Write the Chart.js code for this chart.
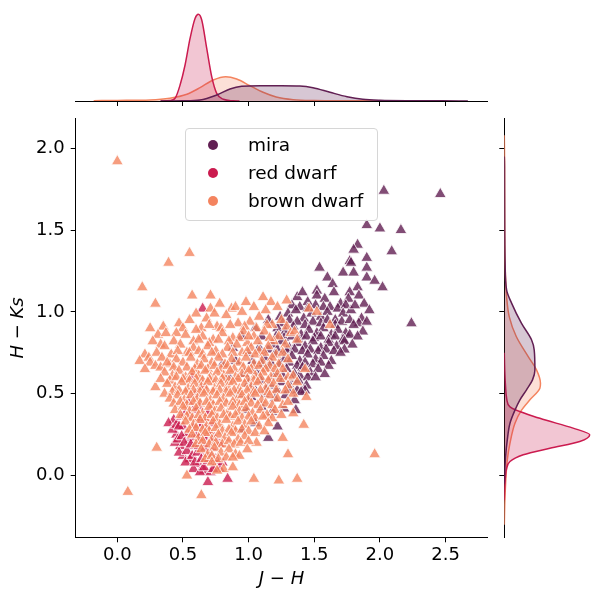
<!DOCTYPE html>
<html><head><meta charset="utf-8">
<script src="https://cdn.jsdelivr.net/npm/chart.js@4.4.1/dist/chart.umd.min.js"></script>
<style>
html,body{margin:0;padding:0;background:#fff;}
#wrap{position:relative;width:603px;height:603px;background:#fff;overflow:hidden;}
canvas{position:absolute;}
#legend{position:absolute;left:185px;top:128px;width:193px;height:93px;border:1px solid #d6d6d6;border-radius:4px;background:rgba(255,255,255,0.8);font-family:'DejaVu Sans';font-size:18.5px;color:#000;box-sizing:border-box;}
.item{position:absolute;left:0;height:24px;line-height:24px;width:100%;}
.dot{position:absolute;left:22px;top:7px;width:10px;height:10px;border-radius:50%;}
.lbl{position:absolute;left:62px;top:0;white-space:nowrap;}
</style>
</head><body>
<div id="wrap">
  <canvas id="main" width="500" height="503" style="left:0;top:100px"></canvas>
  <canvas id="top" width="500" height="112" style="left:0;top:0"></canvas>
  <canvas id="right" width="113" height="503" style="left:490px;top:100px"></canvas>
  <div id="legend"></div>
</div>
<script>
// ---- categories & colours ----
const categories = ['mira', 'red dwarf', 'brown dwarf'];
const colors = ['#611f53', '#cb1b4f', '#f4845f'];

// ---- axis ticks ----
const xTicks = [0.0, 0.5, 1.0, 1.5, 2.0, 2.5];
const yTicks = [0.0, 0.5, 1.0, 1.5, 2.0];

// ---- scatter data: [J-H, H-Ks] ----
const mira = [
 [2.03,1.74],[2.46,1.72],[1.90,1.53],[2.00,1.51],[2.16,1.50],[1.83,1.41],[2.09,1.37],[1.80,1.38],[1.90,1.33],[1.77,1.31],
 [1.54,1.27],[1.90,1.27],[1.72,1.24],[1.80,1.24],[1.60,1.21],[1.90,1.21],[1.96,1.19],[1.64,1.17],[1.83,1.15],[2.02,1.15],
 [1.52,1.13],[1.77,1.12],[2.24,0.93],[1.78,1.30],[1.37,1.09],
 [1.45,1.06],[1.52,1.10],[1.58,1.08],[1.65,1.12],[1.70,1.05],[1.76,1.08],[1.84,1.10],[1.62,1.03],[1.41,1.12],
 [1.33,1.04],[1.39,1.03],[1.45,1.02],[1.51,1.04],[1.57,1.03],[1.68,1.02],[1.74,1.04],[1.88,1.05],
 [1.24,0.97],[1.30,0.99],[1.36,1.01],[1.42,0.96],[1.48,0.99],[1.55,0.97],[1.60,1.00],[1.66,0.95],[1.72,0.99],[1.78,1.01],[1.86,0.96],[1.92,1.01],[1.81,1.04],
 [1.26,0.93],[1.31,0.95],[1.37,0.94],[1.43,0.92],[1.49,0.94],[1.55,0.93],[1.60,0.95],[1.66,0.92],[1.71,0.94],[1.77,0.95],[1.84,0.93],[1.90,0.94],
 [1.22,0.90],[1.28,0.88],[1.34,0.91],[1.40,0.86],[1.46,0.89],[1.52,0.87],[1.57,0.90],[1.63,0.86],[1.68,0.89],[1.74,0.87],[1.80,0.92],[1.87,0.88],
 [1.21,0.85],[1.27,0.84],[1.33,0.85],[1.38,0.83],[1.44,0.85],[1.50,0.84],[1.55,0.85],[1.61,0.83],[1.66,0.85],[1.72,0.83],[1.77,0.86],[1.83,0.85],
 [1.18,0.80],[1.25,0.82],[1.31,0.78],[1.37,0.81],[1.43,0.79],[1.49,0.82],[1.55,0.78],[1.61,0.81],[1.67,0.79],[1.73,0.82],[1.79,0.80],
 [1.15,0.77],[1.22,0.77],[1.29,0.76],[1.35,0.77],[1.41,0.76],[1.47,0.77],[1.53,0.76],[1.59,0.77],[1.65,0.76],[1.73,0.77],
 [1.12,0.72],[1.20,0.74],[1.27,0.71],[1.33,0.73],[1.39,0.70],[1.45,0.74],[1.51,0.71],[1.57,0.73],[1.63,0.70],[1.70,0.75],
 [1.10,0.68],[1.17,0.69],[1.24,0.68],[1.31,0.69],[1.37,0.67],[1.43,0.69],[1.49,0.68],[1.55,0.69],[1.61,0.67],
 [1.05,0.64],[1.14,0.66],[1.22,0.63],[1.29,0.65],[1.35,0.62],[1.41,0.66],[1.47,0.63],[1.53,0.65],[1.58,0.62],
 [1.08,0.61],[1.19,0.60],[1.26,0.61],[1.33,0.59],[1.39,0.61],[1.45,0.60],[1.51,0.60],
 [1.00,0.56],[1.09,0.58],[1.17,0.55],[1.25,0.57],[1.32,0.54],[1.38,0.58],[1.44,0.55],
 [1.05,0.52],[1.14,0.53],[1.22,0.52],[1.30,0.52],[1.37,0.52],[1.43,0.52],
 [1.02,0.48],[1.12,0.50],[1.20,0.47],[1.28,0.49],[1.35,0.46],[1.40,0.51],
 [0.98,0.40],[1.10,0.42],[1.18,0.39],[1.27,0.41],[1.36,0.40],
 [1.05,0.32],[1.15,0.23],[1.22,0.30],[0.95,0.28],
 [0.85,0.60],[0.90,0.70],[0.92,0.50],[0.88,0.78],[0.95,0.85],[1.00,0.75],[1.05,0.90],[1.10,0.85],[1.15,0.95],[0.80,0.68],[0.97,0.62],[1.08,0.78],[1.03,0.70]
];
const redDwarf = [
 [0.43,0.34],[0.39,0.32],[0.45,0.25],[0.48,0.18],[0.50,0.12],[0.55,0.10],[0.62,0.07],[0.66,0.03],[0.76,0.06],[0.69,-0.04],[0.84,-0.02],[0.65,1.02],
 [0.42,0.28],[0.44,0.20],[0.47,0.14],[0.52,0.08],[0.58,0.04],[0.63,0.02],[0.71,0.02],[0.78,0.04],[0.45,0.31],[0.49,0.36],
 [0.50,0.30],[0.53,0.26],[0.55,0.22],[0.57,0.28],[0.58,0.18],[0.60,0.24],[0.60,0.32],[0.61,0.20],[0.62,0.27],[0.63,0.15],
 [0.63,0.23],[0.64,0.30],[0.65,0.19],[0.65,0.25],[0.66,0.35],[0.67,0.22],[0.68,0.28],[0.68,0.13],[0.70,0.20],[0.70,0.26],
 [0.72,0.17],[0.72,0.32],[0.74,0.23],[0.75,0.10],[0.78,0.19],[0.80,0.08],[0.56,0.36],[0.58,0.40],[0.62,0.42],[0.54,0.45],
 [0.52,0.38],[0.47,0.30],[0.46,0.22],[0.49,0.24],[0.51,0.20],[0.53,0.15],[0.57,0.12],[0.59,0.08],[0.61,0.14],[0.64,0.10],
 [0.66,0.05],[0.69,0.09],[0.71,0.12],[0.73,0.04],[0.60,0.28],[0.62,0.21],[0.64,0.26],[0.66,0.29],[0.58,0.23],[0.56,0.19],
 [0.63,0.34],[0.69,0.38],[0.60,0.50],[0.65,0.55],[0.57,0.60],[0.62,0.18],[0.64,0.22],[0.61,0.25],[0.67,0.17],[0.59,0.30]
];
const brownDwarf = [
 [0.00,1.92],[0.55,1.36],[0.39,1.30],[0.19,1.15],[0.29,1.05],[0.08,-0.10],
 [0.57,1.10],[0.71,1.10],[0.71,1.02],[0.87,1.02],[0.90,1.03],[1.11,1.09],[1.17,1.06],[1.29,1.07],[1.46,1.02],[1.52,1.00],[0.78,1.05],[0.98,1.06],[1.04,1.03],
 [0.60,0.99],[0.74,0.99],[0.95,1.00],[1.13,1.01],[1.22,1.03],
 [0.25,0.90],[0.55,0.95],[0.64,0.90],[0.76,0.91],[0.83,0.98],[0.92,0.93],[1.01,0.94],[1.18,0.92],[1.62,0.92],[0.68,0.96],[1.08,0.97],[1.25,0.95],[0.47,0.93],
 [0.35,0.91],[0.50,0.90],[0.60,0.89],[0.70,0.92],[0.79,0.90],[0.86,0.92],[0.97,0.91],[1.06,0.90],[1.14,0.92],[1.29,0.91],
 [0.31,0.86],[0.37,0.87],[0.45,0.87],[0.65,0.85],[0.73,0.83],[0.80,0.87],[0.88,0.84],[0.96,0.88],[1.04,0.85],[1.12,0.88],[1.23,0.85],[1.32,0.87],[1.35,0.88],[0.58,0.82],[0.52,0.86],[1.19,0.82],[0.99,0.81],
 [0.27,0.82],[0.33,0.80],[0.43,0.82],[0.62,0.83],[0.70,0.81],[0.77,0.83],[0.85,0.82],[0.93,0.84],[1.00,0.85],[1.07,0.82],[1.16,0.84],[1.28,0.80],
 [0.48,0.80],[0.41,0.74],[0.58,0.78],[0.62,0.76],[0.69,0.79],[0.75,0.76],[0.84,0.78],[0.91,0.80],[0.95,0.75],[1.02,0.78],[1.08,0.76],[1.15,0.79],[1.21,0.74],[1.26,0.75],[0.36,0.79],[0.53,0.75],[1.37,0.83],
 [0.21,0.74],[0.30,0.75],[0.46,0.76],[0.55,0.75],[0.65,0.74],[0.72,0.75],[0.80,0.74],[0.88,0.75],[0.99,0.76],[1.05,0.74],[1.12,0.75],[1.18,0.72],[1.30,0.71],
 [0.17,0.70],[0.24,0.72],[0.25,0.69],[0.34,0.72],[0.29,0.67],[0.40,0.68],[0.45,0.71],[0.50,0.69],[0.56,0.72],[0.61,0.68],[0.66,0.71],[0.72,0.69],[0.77,0.72],[0.82,0.68],[0.87,0.71],[0.93,0.69],[0.98,0.72],[1.04,0.68],[1.10,0.70],[1.16,0.67],[1.23,0.68],
 [0.21,0.65],[0.33,0.66],[0.38,0.69],[0.43,0.66],[0.53,0.66],[0.59,0.65],[0.64,0.67],[0.69,0.65],[0.74,0.67],[0.79,0.65],[0.84,0.67],[0.89,0.65],[0.96,0.66],[1.02,0.65],[1.08,0.67],[1.13,0.65],[1.20,0.65],[1.26,0.65],
 [0.29,0.54],[0.36,0.63],[0.42,0.61],[0.47,0.64],[0.52,0.60],[0.57,0.63],[0.62,0.61],[0.67,0.64],[0.71,0.60],[0.76,0.63],[0.81,0.61],[0.86,0.64],[0.90,0.60],[0.95,0.62],[1.00,0.64],[1.05,0.61],[1.11,0.63],[1.17,0.60],[1.22,0.62],[1.30,0.60],[1.43,0.65],
 [0.33,0.59],[0.40,0.58],[0.45,0.60],[0.50,0.59],[0.55,0.58],[0.60,0.59],[0.65,0.58],[0.70,0.59],[0.75,0.58],[0.80,0.59],[0.85,0.58],[0.92,0.59],[0.99,0.59],[1.04,0.58],[1.09,0.60],[1.15,0.58],[1.24,0.59],[1.34,0.61],
 [0.38,0.56],[0.44,0.54],[0.49,0.57],[0.54,0.53],[0.59,0.56],[0.64,0.54],[0.69,0.57],[0.74,0.53],[0.79,0.56],[0.84,0.54],[0.88,0.57],[0.93,0.53],[0.97,0.56],[1.02,0.54],[1.07,0.57],[1.13,0.53],[1.19,0.56],[1.30,0.55],[1.37,0.57],
 [0.36,0.50],[0.42,0.51],[0.47,0.52],[0.52,0.51],[0.58,0.52],[0.63,0.51],[0.68,0.52],[0.73,0.51],[0.78,0.52],[0.83,0.51],[0.89,0.52],[0.94,0.51],[0.99,0.52],[1.04,0.51],[1.09,0.52],[1.15,0.51],[1.21,0.52],[1.28,0.52],[1.34,0.50],
 [0.40,0.47],[0.46,0.49],[0.51,0.46],[0.56,0.49],[0.61,0.47],[0.66,0.50],[0.71,0.46],[0.76,0.49],[0.81,0.47],[0.86,0.50],[0.91,0.46],[0.95,0.49],[1.00,0.47],[1.05,0.50],[1.10,0.46],[1.16,0.49],[1.22,0.47],[1.26,0.43],[1.44,0.48],
 [0.43,0.44],[0.48,0.45],[0.53,0.43],[0.58,0.45],[0.63,0.44],[0.68,0.45],[0.73,0.43],[0.78,0.45],[0.83,0.44],[0.88,0.45],[0.93,0.43],[0.97,0.45],[1.02,0.44],[1.07,0.43],[1.13,0.44],[1.18,0.43],[1.30,0.45],
 [0.44,0.40],[0.50,0.42],[0.55,0.39],[0.60,0.41],[0.65,0.38],[0.70,0.42],[0.74,0.39],[0.79,0.41],[0.84,0.38],[0.88,0.42],[0.93,0.39],[0.98,0.41],[1.03,0.38],[1.09,0.40],[1.14,0.37],[1.20,0.40],[1.34,0.38],
 [0.48,0.37],[0.53,0.36],[0.57,0.35],[0.62,0.37],[0.67,0.35],[0.72,0.37],[0.76,0.35],[0.81,0.37],[0.86,0.36],[0.90,0.37],[0.95,0.35],[1.00,0.36],[1.05,0.35],[1.11,0.36],[1.18,0.35],[1.25,0.37],
 [0.52,0.33],[0.58,0.31],[0.63,0.34],[0.68,0.30],[0.73,0.33],[0.78,0.31],[0.83,0.34],[0.88,0.30],[0.92,0.33],[0.97,0.31],[1.02,0.33],[1.08,0.30],[1.15,0.32],[1.42,0.31],
 [0.55,0.28],[0.60,0.29],[0.65,0.28],[0.70,0.27],[0.75,0.29],[0.80,0.27],[0.85,0.28],[0.90,0.27],[0.95,0.28],[1.00,0.27],[1.05,0.26],[1.12,0.27],
 [0.57,0.25],[0.62,0.23],[0.67,0.26],[0.72,0.22],[0.77,0.25],[0.82,0.23],[0.87,0.26],[0.92,0.22],[0.97,0.24],[1.06,0.20],[1.26,0.23],[0.30,0.17],
 [0.60,0.19],[0.65,0.21],[0.70,0.19],[0.75,0.20],[0.80,0.19],[0.85,0.21],[0.89,0.19],[0.94,0.20],[1.00,0.21],
 [0.64,0.16],[0.69,0.13],[0.74,0.17],[0.79,0.14],[0.85,0.16],[0.90,0.13],[0.99,0.16],[1.30,0.13],[1.96,0.13],
 [0.67,0.10],[0.72,0.12],[0.77,0.10],[0.83,0.11],[0.93,0.12],
 [0.72,0.08],[0.81,0.04],[0.88,0.05],[0.88,0.11],[0.76,0.03],
 [0.53,0.00],[0.64,-0.12],[1.04,-0.02],[1.23,-0.03],[1.37,-0.02]
];

// ---- marginal densities: [value, density] ----
const miraTopKde = [[0.33,0],[0.5,0.01],[0.63,0.05],[0.757,0.3],[0.858,0.6],[0.947,0.735],[1.087,0.765],[1.25,0.765],[1.39,0.75],[1.49,0.665],[1.62,0.435],[1.75,0.215],[1.87,0.085],[2.0,0.035],[2.25,0.015],[2.47,0.012],[2.67,0]];
const redTopKde = [[0.33,0],[0.40,0.02],[0.44,0.135],[0.478,0.8],[0.516,1.8],[0.554,3.13],[0.592,4.13],[0.617,4.335],[0.643,4.05],[0.681,2.63],[0.719,1.22],[0.757,0.38],[0.808,0.085],[0.88,0.01],[0.93,0]];
const brownTopKde = [[-0.18,0.015],[0.0,0.03],[0.25,0.05],[0.40,0.135],[0.53,0.335],[0.63,0.665],[0.73,1.05],[0.826,1.215],[0.909,1.1],[1.01,0.765],[1.11,0.435],[1.21,0.2],[1.34,0.065],[1.5,0.02],[1.7,0.01],[1.96,0.01],[2.15,0]];
const miraRightKde = [[-0.05,0],[0.0,0.015],[0.116,0.065],[0.218,0.15],[0.32,0.285],[0.40,0.535],[0.463,0.785],[0.524,1.115],[0.585,1.415],[0.646,1.535],[0.768,1.5],[0.83,1.365],[0.93,0.865],[1.054,0.365],[1.135,0.115],[1.3,0.04],[1.5,0.02],[1.75,0.012],[1.89,0.01],[1.95,0]];
const redRightKde = [[-0.15,0],[-0.08,0.02],[0.0,0.06],[0.035,0.1],[0.086,0.285],[0.127,0.95],[0.167,2.285],[0.208,3.785],[0.249,4.285],[0.29,3.45],[0.35,1.785],[0.42,0.285],[0.47,0.12],[0.55,0.06],[0.65,0.02],[0.75,0]];
const brownRightKde = [[-0.3,0],[-0.15,0.03],[-0.006,0.085],[0.096,0.15],[0.198,0.285],[0.32,0.535],[0.40,0.865],[0.463,1.285],[0.534,1.785],[0.565,1.815],[0.646,1.615],[0.727,1.2],[0.85,0.6],[0.97,0.25],[1.094,0.115],[1.3,0.04],[1.6,0.02],[1.92,0.015],[2.08,0]];

// ---- helpers ----
function rgba(hex, a){const n=parseInt(hex.slice(1),16);return `rgba(${n>>16},${(n>>8)&255},${n&255},${a})`;}
const FONT = "'DejaVu Sans'";
const X_MIN = -0.317, X_MAX = 2.818, Y_MIN = -0.377, Y_MAX = 2.182;
const tickGrid = {display:true, drawOnChartArea:false, drawTicks:true, tickLength:5, color:'#000', lineWidth:1};
const border = {display:true, color:'#000', width:1};
const common = {responsive:false, animation:false, events:[], plugins:{legend:{display:false}, tooltip:{enabled:false}}};

// ---- main scatter ----
const series = [mira, redDwarf, brownDwarf];
new Chart(document.getElementById('main'), {
  type:'scatter',
  data:{datasets: series.map((pts,i)=>({
    label: categories[i],
    data: pts.map(([x,y])=>({x,y})),
    order: 2-i,
    pointStyle:'triangle', pointRadius:6.8, pointHoverRadius:6.8,
    backgroundColor: rgba(colors[i],0.8), borderColor:'#ffffff', borderWidth:0.8
  }))},
  options:{...common,
    layout:{padding:{top:18.5,right:12.7,left:0,bottom:0}},
    scales:{
      x:{type:'linear', min:X_MIN, max:X_MAX,
        afterBuildTicks:s=>{s.ticks = xTicks.map(v=>({value:v}));},
        afterFit:s=>{s.height = 65.7;},
        ticks:{font:{family:FONT,size:18}, color:'#000', padding:2, maxRotation:0, autoSkip:false, callback:v=>Number(v).toFixed(1)},
        grid:tickGrid, border:border,
        title:{display:true, text:'J − H', color:'#000', font:{family:FONT,size:18,style:'italic'}, padding:{top:0,bottom:12.7}}
      },
      y:{type:'linear', min:Y_MIN, max:Y_MAX,
        afterBuildTicks:s=>{s.ticks = yTicks.map(v=>({value:v}));},
        afterFit:s=>{s.width = 75.7;},
        ticks:{font:{family:FONT,size:18}, color:'#000', padding:6, autoSkip:false, callback:v=>Number(v).toFixed(1)},
        grid:tickGrid, border:border,
        title:{display:true, text:'H − Ks', color:'#000', font:{family:FONT,size:18,style:'italic'}, padding:{top:7.7,bottom:0}}
      }
    }
  }
});

// ---- top marginal ----
const topKdes = [miraTopKde, redTopKde, brownTopKde];
new Chart(document.getElementById('top'), {
  type:'scatter',
  data:{datasets: topKdes.map((k,i)=>({
    data: k.map(([x,d])=>({x, y:d})), showLine:true, fill:'origin',
    borderColor: colors[i], backgroundColor: rgba(colors[i],0.25), borderWidth:1.5,
    pointRadius:0, cubicInterpolationMode:'monotone'
  }))},
  options:{...common,
    layout:{padding:{left:75.7,right:12.7,top:10,bottom:0}},
    scales:{
      x:{type:'linear', min:X_MIN, max:X_MAX,
        afterBuildTicks:s=>{s.ticks = xTicks.map(v=>({value:v}));},
        afterFit:s=>{s.height = 11;},
        ticks:{display:false}, grid:tickGrid, border:border},
      y:{type:'linear', display:false, min:0, max:4.55}
    }
  }
});

// ---- right marginal ----
const rightKdes = [miraRightKde, redRightKde, brownRightKde];
new Chart(document.getElementById('right'), {
  type:'line',
  data:{datasets: rightKdes.map((k,i)=>({
    data: k.map(([y,d])=>({x:d, y})), fill:'origin',
    borderColor: colors[i], backgroundColor: rgba(colors[i],0.25), borderWidth:1.5,
    pointRadius:0, cubicInterpolationMode:'monotone'
  }))},
  options:{...common, indexAxis:'y',
    layout:{padding:{left:0,right:9,top:18.5,bottom:65.7}},
    scales:{
      x:{type:'linear', display:false, min:0, max:4.5},
      y:{type:'linear', min:Y_MIN, max:Y_MAX,
        afterBuildTicks:s=>{s.ticks = yTicks.map(v=>({value:v}));},
        afterFit:s=>{s.width = 14.3;},
        ticks:{display:false}, grid:tickGrid, border:border}
    }
  }
});

// ---- legend ----
const leg = document.getElementById('legend');
const rowCenters = [17.3, 45, 73.3];
categories.forEach((c,i)=>{
  const it = document.createElement('div');
  it.className='item'; it.style.top = (rowCenters[i]-12-1)+'px';
  it.innerHTML = `<span class="dot" style="background:${colors[i]}"></span><span class="lbl">${c}</span>`;
  leg.appendChild(it);
});
</script>
</body></html>
